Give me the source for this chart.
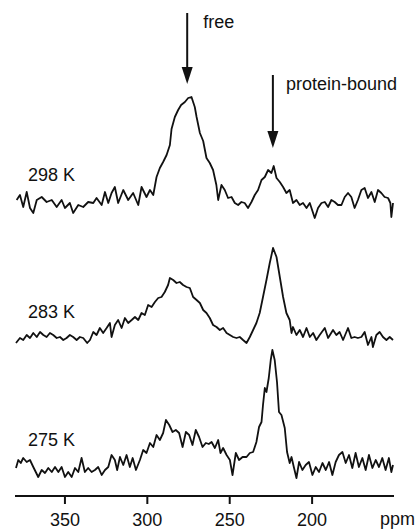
<!DOCTYPE html>
<html>
<head>
<meta charset="utf-8">
<script src="https://cdn.jsdelivr.net/npm/d3@7"></script>
<style>
  body { margin: 0; background: #fff; }
  svg text { font-family: "Liberation Sans", Arial, sans-serif; fill: #111; }
</style>
</head>
<body>
<div id="chart"></div>
<script>
// Data: [ppm, intensity] (intensity in arbitrary units)
const temps = ["298 K", "283 K", "275 K"];
const stackOffset = [265, 128, 0];
const tickValues = [350, 300, 250, 200];
const arrows = [
  { label: "free", ppm: 275.5 },
  { label: "protein-bound", ppm: 223.5 },
];

const trace298 = [
  [379.0, 3], [377.0, 8], [375.0, -4], [372.9, 11], [370.9, -5], [368.9, -10],
  [366.8, 3], [363.8, 6], [360.8, 1], [357.7, 3], [354.7, -4], [351.7, 3],
  [349.7, -5], [346.7, 0], [344.7, -10], [341.6, -2], [338.6, -4], [335.6, 1],
  [332.5, 0], [330.5, 5], [327.4, -2], [325.4, 11], [323.4, 0], [321.4, 10],
  [319.4, 16], [317.4, 0], [314.3, 13], [311.3, 3], [308.3, 10], [305.2, -2],
  [303.2, 16], [300.2, 6], [298.1, 13], [296.1, 8], [294.1, 26], [292.1, 35],
  [290.1, 41], [288.0, 48], [286.0, 58], [285.0, 74], [283.0, 86], [281.0, 93],
  [279.2, 98], [276.9, 101], [274.9, 105], [272.9, 106], [270.9, 96], [269.8, 86],
  [267.8, 70], [265.8, 62], [263.8, 45], [261.8, 40], [259.8, 33], [257.8, 18],
  [256.7, 3], [254.7, 18], [252.7, 13], [250.7, 5], [248.6, 6], [246.6, 0],
  [244.6, -2], [242.6, 1], [240.6, 0], [238.6, -5], [236.5, 1], [234.5, 8],
  [232.5, 13], [230.4, 23], [228.4, 26], [226.4, 33], [224.4, 30], [223.0, 37],
  [221.3, 25], [219.3, 21], [217.3, 16], [215.3, 10], [213.3, 13], [211.3, 0],
  [209.2, 3], [207.2, -2], [205.2, 0], [203.1, -5], [201.1, 0], [198.1, -15],
  [196.1, -5], [194.0, 0], [192.0, 1], [190.0, -4], [188.0, 3], [186.0, 1],
  [184.0, -2], [181.9, -2], [179.9, 6], [177.9, 10], [175.9, 6], [173.9, -5],
  [171.9, 3], [169.8, 13], [167.8, 15], [165.8, 5], [163.7, 11], [161.7, 1],
  [159.7, 13], [157.7, 10], [155.7, 6], [153.6, 5], [152.2, 0], [151.6, -14],
  [150.6, 0],
];

const trace283 = [
  [379.4, -3], [377.0, 2], [375.0, 0], [372.9, 5], [370.9, 2], [368.9, 7],
  [366.8, 3], [364.8, 8], [362.8, 5], [360.8, 3], [358.8, 7], [356.8, 5],
  [354.7, 2], [352.7, 3], [350.7, 0], [348.7, 2], [346.7, 5], [344.7, 3],
  [342.6, 0], [340.6, 3], [338.6, 2], [336.2, -3], [334.5, 0], [332.5, 8],
  [330.5, 5], [328.5, 12], [326.5, 7], [324.4, 12], [322.4, 17], [321.4, 3],
  [319.4, 15], [317.4, 20], [315.3, 12], [313.3, 22], [311.3, 17], [309.2, 20],
  [307.2, 23], [305.2, 20], [303.2, 27], [301.2, 25], [299.2, 35], [297.1, 33],
  [295.1, 38], [293.1, 42], [291.1, 43], [289.1, 48], [287.1, 55], [286.0, 62],
  [284.0, 60], [282.0, 57], [280.0, 58], [278.0, 55], [275.9, 53], [273.9, 52],
  [271.9, 43], [269.8, 40], [267.8, 37], [265.8, 30], [263.8, 27], [261.8, 22],
  [259.8, 15], [257.7, 13], [255.7, 10], [253.7, 12], [251.6, 7], [249.6, 5],
  [247.6, 3], [245.6, 2], [243.6, 3], [241.6, 0], [239.5, -3], [237.5, 3],
  [235.5, 10], [233.5, 17], [231.5, 27], [229.5, 43], [227.4, 60], [225.4, 77],
  [223.4, 92], [221.3, 83], [219.3, 63], [217.3, 43], [215.3, 27], [213.3, 20],
  [212.2, 7], [211.3, 13], [209.2, 5], [207.2, 10], [205.2, 3], [203.1, 12],
  [201.1, 3], [199.1, 7], [197.1, 0], [195.1, 5], [192.0, 12], [190.0, 2],
  [187.0, 10], [185.0, 5], [183.0, 8], [180.9, 0], [177.9, 12], [175.9, 2],
  [173.9, 3], [171.9, 2], [169.8, 3], [167.8, 8], [165.8, -5], [163.7, 3],
  [162.8, -7], [160.7, 5], [158.7, 8], [156.7, 3], [154.6, 0], [152.6, 3],
  [150.6, 0],
];

const trace275 = [
  [379.4, 0], [378.0, 8], [376.5, 5], [375.0, 10], [372.9, 6], [370.9, 8],
  [368.9, 1], [365.9, -9], [363.8, -2], [361.8, -5], [359.8, 0], [357.7, -4],
  [355.7, 1], [353.7, -4], [351.7, 1], [349.7, -9], [347.7, -4], [345.6, -9],
  [343.6, 0], [341.6, -4], [339.6, 10], [337.6, -4], [335.6, 0], [333.5, -4],
  [331.5, -2], [329.5, 1], [327.4, -7], [325.4, -2], [323.4, 1], [321.4, 13],
  [319.4, 8], [318.0, -2], [316.3, 11], [314.3, 3], [312.3, 13], [310.3, 1],
  [308.6, 10], [306.6, -2], [304.2, 8], [302.2, 18], [300.2, 15], [298.1, 25],
  [296.1, 21], [294.1, 33], [292.1, 28], [290.1, 35], [288.4, 48], [286.4, 43],
  [284.4, 36], [282.4, 38], [280.4, 35], [278.3, 21], [276.3, 36], [274.3, 33],
  [272.3, 23], [270.3, 38], [268.3, 31], [266.2, 21], [264.2, 25], [262.4, 24],
  [260.7, 26], [258.7, 20], [256.7, 28], [255.3, 15], [253.7, 20], [251.6, 13],
  [249.6, 8], [248.0, -7], [246.0, 15], [244.0, 8], [241.9, 11], [239.5, 11],
  [237.5, 15], [235.5, 16], [233.5, 26], [231.9, 41], [230.4, 46], [229.5, 63],
  [228.4, 80], [227.4, 76], [226.0, 90], [224.8, 108], [223.8, 118], [222.4, 108],
  [221.0, 86], [219.8, 56], [218.3, 53], [216.3, 40], [214.9, 16], [213.3, 5],
  [212.2, 11], [210.8, 1], [209.2, -10], [207.6, 6], [205.6, -2], [203.6, 3],
  [201.6, 6], [199.5, -7], [197.5, 1], [195.5, -4], [193.4, 5], [191.4, -2],
  [189.4, 6], [187.4, -7], [185.4, 6], [183.4, 13], [181.3, 16], [179.3, 5],
  [177.3, 13], [175.3, 0], [173.3, 15], [171.3, 1], [169.2, 10], [167.2, -2],
  [165.2, 13], [163.1, 0], [161.1, 8], [159.1, 1], [157.1, 10], [155.1, -2],
  [153.1, 10], [151.6, -4], [150.6, 3],
];

const traces = [trace298, trace283, trace275];

// Dimensions
const width = 415;
const height = 529;
const margin = { left: 15, right: 21, axisY: 496 };

const svg = d3
  .select("#chart")
  .append("svg")
  .attr("width", width)
  .attr("height", height);

// Scales (ppm runs right-to-left)
const xScale = d3
  .scaleLinear()
  .domain([380, 150])
  .range([margin.left, width - margin.right]);

const yScale = d3
  .scaleLinear()
  .domain([-28, 400])
  .range([margin.axisY, 68]);

const lineGenerator = d3
  .line()
  .x((d) => xScale(d[0]))
  .y((d) => yScale(d[1]));

// spectra
traces.forEach((tr, i) => {
  const off = stackOffset[i];
  svg
    .append("path")
    .datum(tr.map((d) => [d[0], d[1] + off]))
    .attr("d", lineGenerator)
    .attr("fill", "none")
    .attr("stroke", "#111")
    .attr("stroke-width", 1.8)
    .attr("stroke-linejoin", "round");

  svg
    .append("text")
    .attr("x", 28)
    .attr("y", yScale(off + 22))
    .style("font-size", "18px")
    .text(temps[i]);
});

// arrows
const arrowSpec = [
  { y1: 13, y2: 84, tx: 16, ty: 28 },
  { y1: 75, y2: 148, tx: 13, ty: 90 },
];
arrows.forEach((a, i) => {
  const s = arrowSpec[i];
  const ax = xScale(a.ppm);
  svg
    .append("line")
    .attr("x1", ax)
    .attr("x2", ax)
    .attr("y1", s.y1)
    .attr("y2", s.y2 - 14)
    .attr("stroke", "#111")
    .attr("stroke-width", 2);
  svg
    .append("path")
    .attr(
      "d",
      `M${ax - 5.5},${s.y2 - 17} L${ax + 5.5},${s.y2 - 17} L${ax},${s.y2} Z`
    )
    .attr("fill", "#111");
  svg
    .append("text")
    .attr("x", ax + s.tx)
    .attr("y", s.ty)
    .style("font-size", "18px")
    .text(a.label);
});

// Axis
const xAxis = d3
  .axisBottom(xScale)
  .tickValues(tickValues)
  .tickSizeOuter(0)
  .tickSize(8)
  .tickPadding(9);

const gXAxis = svg
  .append("g")
  .attr("transform", `translate(0, ${margin.axisY})`)
  .call(xAxis);

gXAxis.select(".domain").remove();
gXAxis
  .append("line")
  .attr("x1", xScale.range()[0])
  .attr("x2", xScale.range()[1])
  .attr("stroke", "#111")
  .attr("stroke-width", 2);
gXAxis.selectAll(".tick line").attr("stroke", "#111").attr("stroke-width", 2);
gXAxis
  .selectAll(".tick text")
  .attr("font-family", null)
  .attr("font-size", null)
  .style("font-size", "18px")
  .attr("fill", "#111");

svg
  .append("text")
  .attr("x", 380)
  .attr("y", 525)
  .style("font-size", "18px")
  .text("ppm");
</script>
</body>
</html>
